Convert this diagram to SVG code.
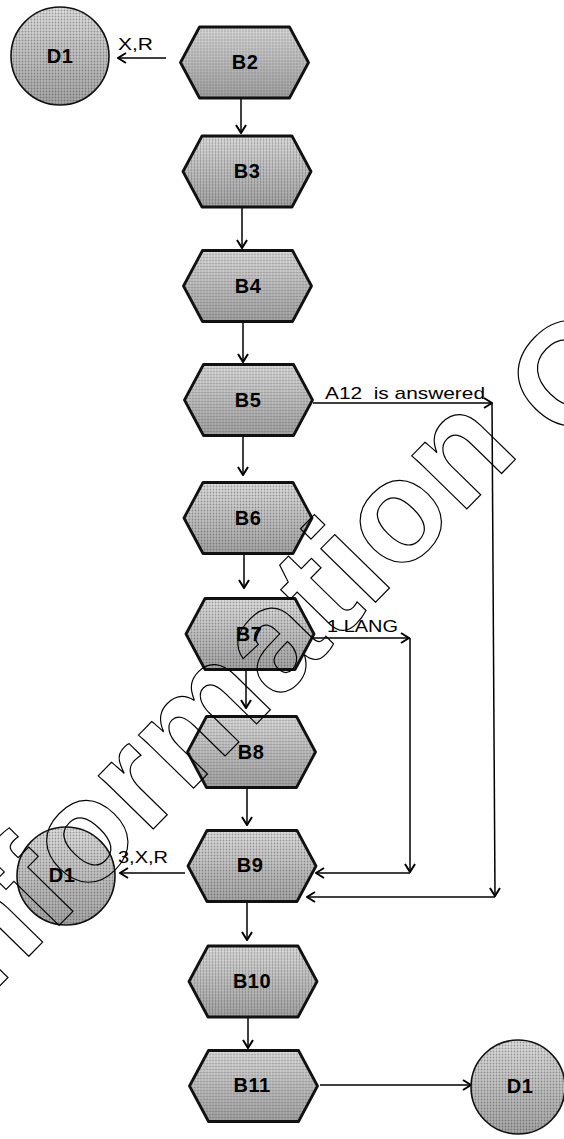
<svg xmlns="http://www.w3.org/2000/svg" xmlns:xlink="http://www.w3.org/1999/xlink" width="564" height="1139" viewBox="0 0 564 1139">
<style>
.conn{fill:none;stroke:#000;stroke-width:1.5}
.edge{stroke:#111;stroke-width:2.8;stroke-linejoin:round}
.nlabel{font-family:"Liberation Sans",Arial,sans-serif;font-weight:bold;font-size:20px;text-anchor:middle;fill:#000;letter-spacing:0.5px}
.clabel{font-family:"Liberation Sans",Arial,sans-serif;font-size:17px;fill:#000}
.wm{font-family:"Liberation Sans",Arial,sans-serif;font-weight:bold;font-size:145px;letter-spacing:0.8px;fill:none;stroke:#000;stroke-width:1.2}
</style>
<defs>
<linearGradient id="shade" x1="0" y1="0" x2="0" y2="1">
<stop offset="0" stop-color="#dedede"/>
<stop offset="1" stop-color="#a6a6a6"/>
</linearGradient>
<pattern id="dots" width="3" height="3" patternUnits="userSpaceOnUse">
<circle cx="1.5" cy="1.5" r="0.9" fill="#000" fill-opacity="0.3"/>
</pattern>
<polygon id="hexshape" points="-64,0 -45,-35.5 45,-35.5 64,0 45,35.5 -45,35.5"/>
<marker id="arr" viewBox="0 0 10 12" refX="9" refY="6" markerWidth="10" markerHeight="12" markerUnits="userSpaceOnUse" orient="auto">
<path d="M1,1 L9,6 L1,11" fill="none" stroke="#000" stroke-width="2"/>
</marker>
</defs>

<g id="connectors">
<path class="conn" d="M166,58 H118" marker-end="url(#arr)"/>
<path class="conn" d="M241,98 V133" marker-end="url(#arr)"/>
<path class="conn" d="M242,208 V248" marker-end="url(#arr)"/>
<path class="conn" d="M243,322 V362" marker-end="url(#arr)"/>
<path class="conn" d="M243,436 V475" marker-end="url(#arr)"/>
<path class="conn" d="M244,553 V588" marker-end="url(#arr)"/>
<path class="conn" d="M246,669 V708" marker-end="url(#arr)"/>
<path class="conn" d="M247,787 V825" marker-end="url(#arr)"/>
<path class="conn" d="M247,901 V940" marker-end="url(#arr)"/>
<path class="conn" d="M248,1017 V1048" marker-end="url(#arr)"/>
<path class="conn" d="M313,403 H492" marker-end="url(#arr)"/>
<path class="conn" d="M492,403 L495,896" marker-end="url(#arr)"/>
<path class="conn" d="M495,897 H307" marker-end="url(#arr)"/>
<path class="conn" d="M313,638 H409" marker-end="url(#arr)"/>
<path class="conn" d="M410,638 V872" marker-end="url(#arr)"/>
<path class="conn" d="M410,873 H316" marker-end="url(#arr)"/>
<path class="conn" d="M185,873 H120" marker-end="url(#arr)"/>
<path class="conn" d="M320,1085 H471" marker-end="url(#arr)"/>
<text class="clabel" x="118" y="50" textLength="35" lengthAdjust="spacingAndGlyphs">X,R</text>
<text class="clabel" x="325" y="399" textLength="160" lengthAdjust="spacingAndGlyphs" xml:space="preserve">A12  is answered</text>
<text class="clabel" x="327" y="632" textLength="71" lengthAdjust="spacingAndGlyphs">1 LANG</text>
<text class="clabel" x="118" y="863" textLength="50" lengthAdjust="spacingAndGlyphs">3,X,R</text>
</g>

<g id="D1a">
<circle cx="60" cy="56" r="49" fill="url(#shade)"/>
<circle cx="60" cy="56" r="49" fill="url(#dots)" stroke="#111" stroke-width="1.6"/>
<text class="nlabel" x="60" y="63">D1</text>
</g>
<g id="B2">
<use xlink:href="#hexshape" x="244.5" y="62.5" fill="url(#shade)"/>
<use xlink:href="#hexshape" x="244.5" y="62.5" fill="url(#dots)" class="edge"/>
<text class="nlabel" x="245" y="69">B2</text>
</g>
<g id="B3">
<use xlink:href="#hexshape" x="247" y="171.5" fill="url(#shade)"/>
<use xlink:href="#hexshape" x="247" y="171.5" fill="url(#dots)" class="edge"/>
<text class="nlabel" x="247" y="178">B3</text>
</g>
<g id="B4">
<use xlink:href="#hexshape" x="247.5" y="286" fill="url(#shade)"/>
<use xlink:href="#hexshape" x="247.5" y="286" fill="url(#dots)" class="edge"/>
<text class="nlabel" x="248" y="293">B4</text>
</g>
<g id="B5">
<use xlink:href="#hexshape" x="248.5" y="400" fill="url(#shade)"/>
<use xlink:href="#hexshape" x="248.5" y="400" fill="url(#dots)" class="edge"/>
<text class="nlabel" x="248" y="407">B5</text>
</g>
<g id="B6">
<use xlink:href="#hexshape" x="248" y="518" fill="url(#shade)"/>
<use xlink:href="#hexshape" x="248" y="518" fill="url(#dots)" class="edge"/>
<text class="nlabel" x="248" y="525">B6</text>
</g>
<g id="B7">
<use xlink:href="#hexshape" x="250" y="634" fill="url(#shade)"/>
<use xlink:href="#hexshape" x="250" y="634" fill="url(#dots)" class="edge"/>
<text class="nlabel" x="249" y="641">B7</text>
</g>
<g id="B8">
<use xlink:href="#hexshape" x="251.5" y="752" fill="url(#shade)"/>
<use xlink:href="#hexshape" x="251.5" y="752" fill="url(#dots)" class="edge"/>
<text class="nlabel" x="251" y="759">B8</text>
</g>
<g id="B9">
<use xlink:href="#hexshape" x="252" y="866" fill="url(#shade)"/>
<use xlink:href="#hexshape" x="252" y="866" fill="url(#dots)" class="edge"/>
<text class="nlabel" x="250" y="872">B9</text>
</g>
<g id="D1b">
<circle cx="66" cy="876" r="49" fill="url(#shade)"/>
<circle cx="66" cy="876" r="49" fill="url(#dots)" stroke="#111" stroke-width="1.6"/>
<text class="nlabel" x="62" y="882">D1</text>
</g>
<g id="B10">
<use xlink:href="#hexshape" x="253" y="981.5" fill="url(#shade)"/>
<use xlink:href="#hexshape" x="253" y="981.5" fill="url(#dots)" class="edge"/>
<text class="nlabel" x="252" y="988">B10</text>
</g>
<g id="B11">
<use xlink:href="#hexshape" x="253.5" y="1086" fill="url(#shade)"/>
<use xlink:href="#hexshape" x="253.5" y="1086" fill="url(#dots)" class="edge"/>
<text class="nlabel" x="252" y="1092">B11</text>
</g>
<g id="D1c">
<circle cx="518" cy="1087" r="47" fill="url(#shade)"/>
<circle cx="518" cy="1087" r="47" fill="url(#dots)" stroke="#111" stroke-width="1.6"/>
<text class="nlabel" x="520" y="1093">D1</text>
</g>

<g id="watermark">
<text class="wm" transform="translate(-41.8,1028.4) rotate(-45.6)">Information</text>
<text class="wm" transform="translate(567.6,448.6) rotate(-45.6)">Only</text>
</g>
</svg>
